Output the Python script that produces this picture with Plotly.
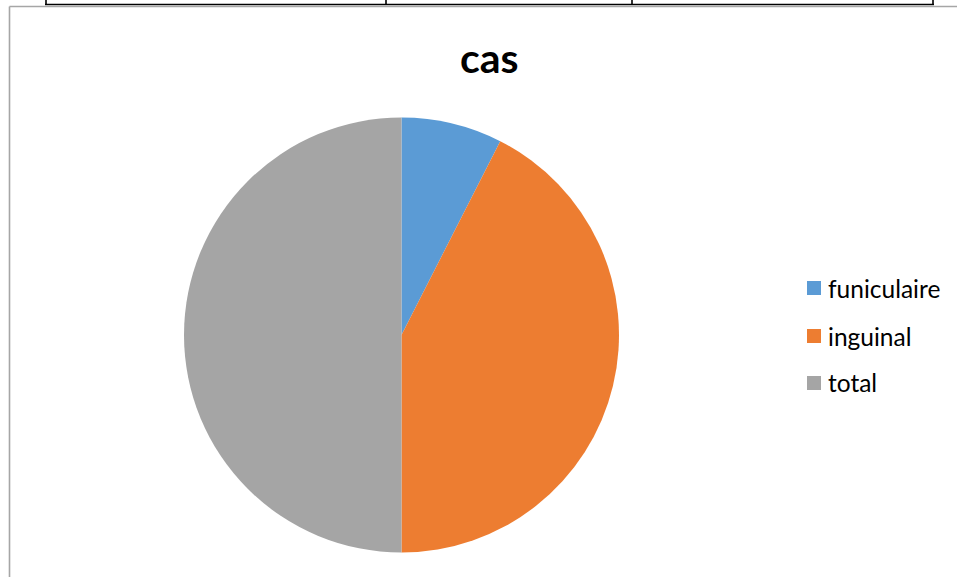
import plotly.graph_objects as go

# Chart data
labels = ["funiculaire", "inguinal", "total"]
values = [3, 17, 20]
colors = ["#5B9BD5", "#ED7D31", "#A5A5A5"]
title_text = "cas"

W, H = 957, 577


def px(x):
    return x / W


def py(y):
    return 1 - y / H


fig = go.Figure(
    go.Pie(
        labels=labels,
        values=values,
        sort=False,
        direction="clockwise",
        rotation=0,
        textinfo="none",
        hoverinfo="label+value",
        marker=dict(colors=colors, line=dict(width=0)),
        domain=dict(x=[px(184), px(619)], y=[py(552.5), py(117.5)]),
        showlegend=False,
    )
)

shapes = []
# Table rule above the chart
shapes.append(dict(type="line", xref="paper", yref="paper",
                   x0=px(45), x1=px(934), y0=py(4.5), y1=py(4.5),
                   line=dict(color="black", width=1.6)))
for xv in [46, 386, 632, 933]:
    shapes.append(dict(type="line", xref="paper", yref="paper",
                       x0=px(xv), x1=px(xv), y0=py(0), y1=py(5),
                       line=dict(color="black", width=1.6)))
# Chart frame
shapes.append(dict(type="line", xref="paper", yref="paper",
                   x0=px(9.5), x1=px(9.5), y0=py(6.5), y1=py(H + 5),
                   line=dict(color="#a6a6a6", width=1.6)))
shapes.append(dict(type="line", xref="paper", yref="paper",
                   x0=px(9.5), x1=px(W + 5), y0=py(6.5), y1=py(6.5),
                   line=dict(color="#a6a6a6", width=1.6)))

# Legend
legend_y = [288, 336, 383]
annotations = []
for lab, col, yc in zip(labels, colors, legend_y):
    shapes.append(dict(type="rect", xref="paper", yref="paper",
                       x0=px(807), x1=px(821), y0=py(yc + 7), y1=py(yc - 7),
                       fillcolor=col, line=dict(width=0)))
    annotations.append(dict(text=lab, xref="paper", yref="paper",
                            x=px(826), y=py(yc), xanchor="left", yanchor="middle",
                            showarrow=False,
                            font=dict(family="Lato", size=24.5, color="#000000")))

annotations.append(dict(text="<b>" + title_text + "</b>", xref="paper", yref="paper",
                        x=px(489.5), y=py(57), xanchor="center", yanchor="middle",
                        showarrow=False,
                        font=dict(family="Lato", size=41, color="#000000")))

fig.update_layout(
    width=W, height=H,
    margin=dict(l=0, r=0, t=0, b=0),
    paper_bgcolor="white",
    plot_bgcolor="white",
    shapes=shapes,
    annotations=annotations,
)

fig.write_html("out.html")
